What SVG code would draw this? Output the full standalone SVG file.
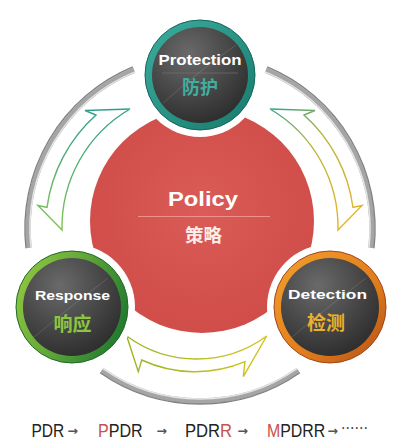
<svg xmlns="http://www.w3.org/2000/svg" width="400" height="445" viewBox="0 0 400 445">
<defs>
  <style>
    .gring{fill:none;stroke:#a5a5a5;stroke-width:5.5}
    .gdark{fill:none;stroke:#808080;stroke-width:1.3}
    .ghi{fill:none;stroke:#e4e4e4;stroke-width:1.5}
    .arrow{stroke-width:1.4;stroke-linejoin:miter}
    .halo{fill:#fff}
    .disk{fill:url(#disk)}
    .gloss{fill:none;stroke:#fff;stroke-opacity:0.13;stroke-width:1}
    .en{font-family:"Liberation Sans",Arial,sans-serif;font-weight:bold;fill:#fff;text-anchor:middle}
    .cn{font-family:"Noto Sans CJK SC","Noto Sans CJK JP",sans-serif;font-weight:bold;text-anchor:middle}
    .foot{font-family:"Liberation Sans",Arial,sans-serif;font-size:18.5px;fill:#222}
    .arw{font-family:"DejaVu Sans",sans-serif;font-size:12.5px;font-weight:bold;fill:#555}
    .hl{fill:#c9504c}
  </style>
  <radialGradient id="disk" cx="0.38" cy="0.28" r="0.85">
    <stop offset="0" stop-color="#6a6a6a"/>
    <stop offset="0.55" stop-color="#444"/>
    <stop offset="1" stop-color="#262626"/>
  </radialGradient>
  <linearGradient id="ringP" x1="0" y1="0" x2="1" y2="1">
    <stop offset="0" stop-color="#3cae9e"/>
    <stop offset="1" stop-color="#177a6c"/>
  </linearGradient>
  <linearGradient id="ringR" x1="0" y1="0.2" x2="1" y2="0.6">
    <stop offset="0" stop-color="#92c741"/>
    <stop offset="0.5" stop-color="#5fa638"/>
    <stop offset="1" stop-color="#237a2e"/>
  </linearGradient>
  <linearGradient id="ringD" x1="0" y1="0" x2="1" y2="1">
    <stop offset="0" stop-color="#f4a030"/>
    <stop offset="0.6" stop-color="#e07c1c"/>
    <stop offset="1" stop-color="#b24e16"/>
  </linearGradient>
  <radialGradient id="red" cx="0.5" cy="0.45" r="0.55">
    <stop offset="0" stop-color="#da5b57"/>
    <stop offset="1" stop-color="#d04d49"/>
  </radialGradient>
  <linearGradient id="gL" gradientUnits="userSpaceOnUse" x1="0" y1="108" x2="0" y2="232">
    <stop offset="0" stop-color="#2e9f8c"/>
    <stop offset="1" stop-color="#80c450"/>
  </linearGradient>
  <linearGradient id="gR" gradientUnits="userSpaceOnUse" x1="270" y1="108" x2="350" y2="232">
    <stop offset="0" stop-color="#2ea58f"/>
    <stop offset="0.35" stop-color="#b9b33a"/>
    <stop offset="1" stop-color="#e8b422"/>
  </linearGradient>
  <linearGradient id="gB" gradientUnits="userSpaceOnUse" x1="125" y1="0" x2="268" y2="0">
    <stop offset="0" stop-color="#98b42a"/>
    <stop offset="1" stop-color="#d6c41c"/>
  </linearGradient>
</defs>
<rect width="400" height="445" fill="#fff"/>

<g id="connectors">
  <g id="outer-ring">
    <path class="gring" d="M265.8 70.1 A172 172 0 0 1 371 247.9"/>
    <path class="gring" d="M298.2 370.2 A172 172 0 0 1 101.8 370.2"/>
    <path class="gring" d="M29 247.9 A172 172 0 0 1 134.2 70.1"/>
    <path class="gdark" d="M267.2 66.9 A175 175 0 0 1 374 248.2"/>
    <path class="gdark" d="M299.9 372.7 A175 175 0 0 1 100.1 372.7"/>
    <path class="gdark" d="M26 248.2 A175 175 0 0 1 132.8 66.9"/>
    <path class="ghi" d="M265.1 71.9 A170 170 0 0 1 369 247.7"/>
    <path class="ghi" d="M297 368.6 A170 170 0 0 1 103 368.6"/>
    <path class="ghi" d="M31 247.7 A170 170 0 0 1 134.9 71.9"/>
  </g>
  <path id="arrow-left" class="arrow" fill="none" stroke="url(#gL)" d="M130 109 A137 137 0 0 0 62 230 L38 205.5 L47 207.5 A151 151 0 0 1 96 115 L85 110.5 Z"/>
  <path id="arrow-right" class="arrow" fill="none" stroke="url(#gR)" d="M270 109 A137 137 0 0 1 338 230 L362 205.5 L353 207.5 A151 151 0 0 0 304 115 L315 110.5 Z"/>
  <path id="arrow-bottom" class="arrow" fill="none" stroke="url(#gB)" d="M126.7 336 A118 118 0 0 0 266.7 336 L243.3 376.7 L245 361.7 A128 128 0 0 1 141.7 360 L138.3 371.7 Z"/>
</g>

<g id="policy">
  <circle cx="202" cy="221" r="112" fill="url(#red)"/>
  <line x1="138" y1="216.5" x2="270" y2="216.5" stroke="#ec918b" stroke-width="1"/>
  <text class="en" x="203" y="205.7" font-size="19.5" textLength="70" lengthAdjust="spacingAndGlyphs" fill="#fbf3ee">Policy</text>
  <text class="cn" x="203.5" y="242" font-size="18.5" fill="#fbeeea">策略</text>
</g>

<g id="protection">
  <circle class="halo" cx="200" cy="75" r="62"/>
  <circle cx="200" cy="75" r="55" fill="url(#ringP)" stroke="#13665b" stroke-width="1"/>
  <circle class="disk" cx="200" cy="75" r="48"/>
  <path class="gloss" d="M163 103 Q200 70 236 45"/>
  <line x1="162" y1="73" x2="238" y2="73" stroke="#777" stroke-width="0.6"/>
  <text class="en" x="200" y="65" font-size="14" textLength="83" lengthAdjust="spacingAndGlyphs">Protection</text>
  <text class="cn" x="200" y="94" font-size="18" fill="#3fae9f">防护</text>
</g>

<g id="response">
  <circle class="halo" cx="72" cy="307" r="63"/>
  <circle cx="72" cy="307" r="56" fill="url(#ringR)" stroke="#1f6a28" stroke-width="1"/>
  <circle class="disk" cx="72" cy="307" r="49"/>
  <path class="gloss" d="M34 337 Q72 305 108 278"/>
  <text class="en" x="72.5" y="300" font-size="13.5" textLength="75" lengthAdjust="spacingAndGlyphs">Response</text>
  <text class="cn" x="72.5" y="331" font-size="19" fill="#8cc63f">响应</text>
</g>

<g id="detection">
  <circle class="halo" cx="330" cy="307" r="63"/>
  <circle cx="330" cy="307" r="56" fill="url(#ringD)" stroke="#a3461a" stroke-width="1"/>
  <circle class="disk" cx="330" cy="307" r="49"/>
  <path class="gloss" d="M292 337 Q330 305 366 278"/>
  <text class="en" x="327.5" y="299" font-size="13.5" textLength="79" lengthAdjust="spacingAndGlyphs">Detection</text>
  <text class="cn" x="326" y="330" font-size="19" fill="#e9b12c">检测</text>
</g>

<g id="footer">
  <text class="foot" transform="translate(31.5 436.5) scale(0.84 1)">PDR</text>
  <text class="arw" x="67.5" y="434.5">→</text>
  <text class="foot" transform="translate(98 436.5) scale(0.87 1)"><tspan class="hl">P</tspan>PDR</text>
  <text class="arw" x="156.5" y="434.5">→</text>
  <text class="foot" transform="translate(185 436.5) scale(0.9 1)">PDR<tspan class="hl">R</tspan></text>
  <text class="arw" x="237.5" y="434.5">→</text>
  <text class="foot" transform="translate(267 436.5) scale(0.86 1)"><tspan class="hl">M</tspan>PDRR</text>
  <text class="arw" x="327.5" y="434.5">→</text>
  <text x="341" y="434" font-family="Noto Sans CJK SC, sans-serif" font-size="16" fill="#444" textLength="27" lengthAdjust="spacingAndGlyphs">……</text>
</g>
</svg>
